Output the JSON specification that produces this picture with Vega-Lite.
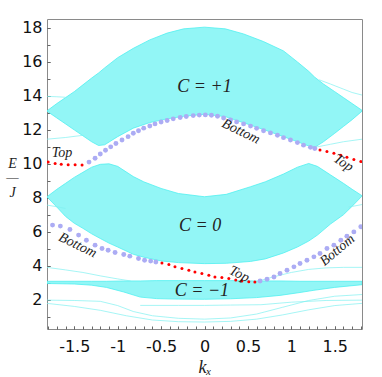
{
  "$schema": "https://vega.github.io/schema/vega-lite/v6.json",
  "width": 315,
  "height": 310,
  "autosize": {"type": "none"},
  "padding": {"left": 47, "top": 19, "right": 20, "bottom": 48},
  "background": "white",
  "config": {"view": {"stroke": "#8a8a8a", "strokeWidth": 1}, "axis": {"labelOverlap": false}},
  "resolve": {"axis": {"x": "independent", "y": "independent"}},
  "datasets": {
    "bands": [
      {"band": "U", "k": -1.8138, "lo": 13.1, "hi": 13.12},
      {"band": "U", "k": -1.7, "lo": 12.7, "hi": 13.55},
      {"band": "U", "k": -1.6, "lo": 12.35, "hi": 13.9},
      {"band": "U", "k": -1.5, "lo": 12.0, "hi": 14.25},
      {"band": "U", "k": -1.4, "lo": 11.65, "hi": 14.65},
      {"band": "U", "k": -1.3, "lo": 11.3, "hi": 15.05},
      {"band": "U", "k": -1.22, "lo": 11.08, "hi": 15.35},
      {"band": "U", "k": -1.15, "lo": 11.12, "hi": 15.65},
      {"band": "U", "k": -1.0, "lo": 11.6, "hi": 16.25},
      {"band": "U", "k": -0.82, "lo": 12.1, "hi": 16.8},
      {"band": "U", "k": -0.63, "lo": 12.43, "hi": 17.3},
      {"band": "U", "k": -0.43, "lo": 12.65, "hi": 17.7},
      {"band": "U", "k": -0.24, "lo": 12.8, "hi": 17.95},
      {"band": "U", "k": 0.0, "lo": 12.92, "hi": 18.05},
      {"band": "U", "k": 0.24, "lo": 12.78, "hi": 17.95},
      {"band": "U", "k": 0.45, "lo": 12.42, "hi": 17.65},
      {"band": "U", "k": 0.68, "lo": 12.02, "hi": 17.2},
      {"band": "U", "k": 0.91, "lo": 11.6, "hi": 16.65},
      {"band": "U", "k": 1.07, "lo": 11.3, "hi": 16.0},
      {"band": "U", "k": 1.2, "lo": 11.05, "hi": 15.45},
      {"band": "U", "k": 1.27, "lo": 10.97, "hi": 15.1},
      {"band": "U", "k": 1.37, "lo": 11.3, "hi": 14.7},
      {"band": "U", "k": 1.5, "lo": 11.8, "hi": 14.25},
      {"band": "U", "k": 1.6, "lo": 12.2, "hi": 13.9},
      {"band": "U", "k": 1.7, "lo": 12.6, "hi": 13.55},
      {"band": "U", "k": 1.8138, "lo": 13.1, "hi": 13.15},
      {"band": "M", "k": -1.8138, "lo": 8.05, "hi": 8.06},
      {"band": "M", "k": -1.7, "lo": 7.45, "hi": 8.5},
      {"band": "M", "k": -1.6, "lo": 6.9, "hi": 8.85},
      {"band": "M", "k": -1.5, "lo": 6.5, "hi": 9.2},
      {"band": "M", "k": -1.4, "lo": 6.2, "hi": 9.5},
      {"band": "M", "k": -1.3, "lo": 5.88, "hi": 9.8},
      {"band": "M", "k": -1.2, "lo": 5.6, "hi": 9.97},
      {"band": "M", "k": -1.1, "lo": 5.33, "hi": 10.0},
      {"band": "M", "k": -1.0, "lo": 5.1, "hi": 9.85},
      {"band": "M", "k": -0.82, "lo": 4.67, "hi": 9.25},
      {"band": "M", "k": -0.7, "lo": 4.5, "hi": 8.94},
      {"band": "M", "k": -0.5, "lo": 4.28, "hi": 8.55},
      {"band": "M", "k": -0.3, "lo": 4.18, "hi": 8.25},
      {"band": "M", "k": 0.0, "lo": 4.12, "hi": 8.06},
      {"band": "M", "k": 0.25, "lo": 4.14, "hi": 8.2},
      {"band": "M", "k": 0.53, "lo": 4.25, "hi": 8.65},
      {"band": "M", "k": 0.7, "lo": 4.4, "hi": 8.94},
      {"band": "M", "k": 0.91, "lo": 4.75, "hi": 9.4},
      {"band": "M", "k": 1.07, "lo": 5.1, "hi": 9.8},
      {"band": "M", "k": 1.2, "lo": 5.45, "hi": 10.02},
      {"band": "M", "k": 1.3, "lo": 5.8, "hi": 9.85},
      {"band": "M", "k": 1.45, "lo": 6.45, "hi": 9.35},
      {"band": "M", "k": 1.6, "lo": 7.0, "hi": 8.85},
      {"band": "M", "k": 1.7, "lo": 7.5, "hi": 8.5},
      {"band": "M", "k": 1.8138, "lo": 8.1, "hi": 8.12},
      {"band": "L", "k": -1.8138, "lo": 2.95, "hi": 3.08},
      {"band": "L", "k": -1.5, "lo": 2.92, "hi": 3.08},
      {"band": "L", "k": -1.3, "lo": 2.85, "hi": 3.08},
      {"band": "L", "k": -1.13, "lo": 2.72, "hi": 3.08},
      {"band": "L", "k": -0.93, "lo": 2.45, "hi": 3.1},
      {"band": "L", "k": -0.74, "lo": 2.15, "hi": 3.1},
      {"band": "L", "k": -0.55, "lo": 2.06, "hi": 3.12},
      {"band": "L", "k": -0.3, "lo": 2.03, "hi": 3.12},
      {"band": "L", "k": 0.0, "lo": 2.02, "hi": 3.12},
      {"band": "L", "k": 0.3, "lo": 2.05, "hi": 3.12},
      {"band": "L", "k": 0.6, "lo": 2.12, "hi": 3.1},
      {"band": "L", "k": 0.87, "lo": 2.25, "hi": 3.1},
      {"band": "L", "k": 1.1, "lo": 2.42, "hi": 3.08},
      {"band": "L", "k": 1.26, "lo": 2.55, "hi": 3.08},
      {"band": "L", "k": 1.5, "lo": 2.72, "hi": 3.08},
      {"band": "L", "k": 1.8138, "lo": 2.88, "hi": 3.08}
    ],
    "lines": [
      {"id": "t1", "k": -1.8138, "E": 13.97}, {"id": "t1", "k": -1.7, "E": 13.95}, {"id": "t1", "k": -1.6, "E": 13.92},
      {"id": "t2", "k": 1.32, "E": 14.95}, {"id": "t2", "k": 1.45, "E": 14.7}, {"id": "t2", "k": 1.6, "E": 14.4}, {"id": "t2", "k": 1.7, "E": 14.2}, {"id": "t2", "k": 1.8138, "E": 14.05},
      {"id": "t3", "k": -1.8138, "E": 11.45}, {"id": "t3", "k": -1.6, "E": 11.55}, {"id": "t3", "k": -1.4, "E": 11.68},
      {"id": "t4", "k": 1.27, "E": 10.97}, {"id": "t4", "k": 1.45, "E": 11.15}, {"id": "t4", "k": 1.6, "E": 11.3}, {"id": "t4", "k": 1.8138, "E": 11.45},
      {"id": "t5", "k": -1.8138, "E": 7.57}, {"id": "t5", "k": -1.7, "E": 7.47}, {"id": "t5", "k": -1.6, "E": 7.37},
      {"id": "t6", "k": 1.66, "E": 7.45}, {"id": "t6", "k": 1.8138, "E": 7.6},
      {"id": "t7", "k": -1.8138, "E": 3.9}, {"id": "t7", "k": -1.6, "E": 3.75}, {"id": "t7", "k": -1.4, "E": 3.6}, {"id": "t7", "k": -1.2, "E": 3.4}, {"id": "t7", "k": -1.0, "E": 3.22}, {"id": "t7", "k": -0.85, "E": 3.1},
      {"id": "t8", "k": 0.62, "E": 3.1}, {"id": "t8", "k": 0.8, "E": 3.35}, {"id": "t8", "k": 1.0, "E": 3.6}, {"id": "t8", "k": 1.2, "E": 3.78}, {"id": "t8", "k": 1.4, "E": 3.87}, {"id": "t8", "k": 1.6, "E": 3.9}, {"id": "t8", "k": 1.8138, "E": 3.9},
      {"id": "t9", "k": -1.8138, "E": 1.97}, {"id": "t9", "k": -1.5, "E": 1.95}, {"id": "t9", "k": -1.2, "E": 1.9}, {"id": "t9", "k": -1.0, "E": 1.65}, {"id": "t9", "k": -0.82, "E": 1.3}, {"id": "t9", "k": -0.6, "E": 1.05}, {"id": "t9", "k": -0.3, "E": 0.9}, {"id": "t9", "k": 0.0, "E": 0.85}, {"id": "t9", "k": 0.3, "E": 0.92}, {"id": "t9", "k": 0.6, "E": 1.15}, {"id": "t9", "k": 0.9, "E": 1.55}, {"id": "t9", "k": 1.2, "E": 1.95}, {"id": "t9", "k": 1.5, "E": 2.2}, {"id": "t9", "k": 1.8138, "E": 2.3},
      {"id": "t10", "k": -1.8138, "E": 1.78}, {"id": "t10", "k": -1.5, "E": 1.6}, {"id": "t10", "k": -1.2, "E": 1.37}, {"id": "t10", "k": -0.9, "E": 1.05}, {"id": "t10", "k": -0.6, "E": 0.8}, {"id": "t10", "k": -0.3, "E": 0.7}, {"id": "t10", "k": 0.0, "E": 0.68}, {"id": "t10", "k": 0.3, "E": 0.72}, {"id": "t10", "k": 0.6, "E": 0.85}, {"id": "t10", "k": 0.9, "E": 1.1}, {"id": "t10", "k": 1.2, "E": 1.4}, {"id": "t10", "k": 1.5, "E": 1.65}, {"id": "t10", "k": 1.8138, "E": 1.78},
      {"id": "t11", "k": -0.74, "E": 1.66}, {"id": "t11", "k": -0.3, "E": 1.66}, {"id": "t11", "k": 0.0, "E": 1.66}, {"id": "t11", "k": 0.3, "E": 1.68}, {"id": "t11", "k": 0.65, "E": 1.7}, {"id": "t11", "k": 1.0, "E": 1.85}, {"id": "t11", "k": 1.4, "E": 1.95}, {"id": "t11", "k": 1.8138, "E": 1.97}
    ],
    "red": [
      {"k": -1.8, "E": 10.1}, {"k": -1.72, "E": 10.02}, {"k": -1.65, "E": 9.98}, {"k": -1.57, "E": 9.95}, {"k": -1.49, "E": 9.94}, {"k": -1.41, "E": 9.93},
      {"k": 1.33, "E": 10.81}, {"k": 1.41, "E": 10.72}, {"k": 1.49, "E": 10.62}, {"k": 1.57, "E": 10.5}, {"k": 1.64, "E": 10.38}, {"k": 1.72, "E": 10.25}, {"k": 1.8, "E": 10.13},
      {"k": -0.49, "E": 4.16}, {"k": -0.41, "E": 4.07}, {"k": -0.34, "E": 3.93}, {"k": -0.26, "E": 3.83}, {"k": -0.18, "E": 3.73}, {"k": -0.11, "E": 3.63}, {"k": -0.03, "E": 3.54}, {"k": 0.05, "E": 3.44}, {"k": 0.12, "E": 3.34}, {"k": 0.2, "E": 3.3}, {"k": 0.28, "E": 3.24}, {"k": 0.36, "E": 3.16}, {"k": 0.43, "E": 3.1}, {"k": 0.51, "E": 3.06}, {"k": 0.58, "E": 3.04}
    ],
    "lav": [
      {"k": -1.33, "E": 10.1}, {"k": -1.26, "E": 10.33}, {"k": -1.2, "E": 10.58}, {"k": -1.14, "E": 10.8}, {"k": -1.08, "E": 11.0}, {"k": -1.02, "E": 11.2}, {"k": -0.95, "E": 11.4}, {"k": -0.88, "E": 11.6}, {"k": -0.82, "E": 11.8}, {"k": -0.76, "E": 11.95}, {"k": -0.7, "E": 12.1}, {"k": -0.63, "E": 12.23}, {"k": -0.57, "E": 12.35}, {"k": -0.5, "E": 12.46}, {"k": -0.43, "E": 12.55}, {"k": -0.36, "E": 12.65}, {"k": -0.28, "E": 12.73}, {"k": -0.21, "E": 12.79}, {"k": -0.13, "E": 12.84}, {"k": -0.06, "E": 12.87}, {"k": 0.01, "E": 12.88}, {"k": 0.08, "E": 12.86}, {"k": 0.15, "E": 12.8}, {"k": 0.22, "E": 12.7}, {"k": 0.3, "E": 12.59}, {"k": 0.37, "E": 12.47}, {"k": 0.45, "E": 12.35}, {"k": 0.53, "E": 12.22}, {"k": 0.6, "E": 12.09}, {"k": 0.68, "E": 11.95}, {"k": 0.76, "E": 11.82}, {"k": 0.84, "E": 11.68}, {"k": 0.91, "E": 11.54}, {"k": 0.99, "E": 11.4}, {"k": 1.07, "E": 11.25}, {"k": 1.14, "E": 11.1}, {"k": 1.22, "E": 10.97}, {"k": 1.27, "E": 10.9},
      {"k": -1.84, "E": 6.39}, {"k": -1.75, "E": 6.39}, {"k": -1.66, "E": 6.33}, {"k": -1.55, "E": 6.13}, {"k": -1.45, "E": 5.8}, {"k": -1.36, "E": 5.5}, {"k": -1.26, "E": 5.21}, {"k": -1.18, "E": 5.01}, {"k": -1.11, "E": 4.91}, {"k": -1.03, "E": 4.78}, {"k": -0.93, "E": 4.66}, {"k": -0.86, "E": 4.56}, {"k": -0.76, "E": 4.42}, {"k": -0.69, "E": 4.32}, {"k": -0.62, "E": 4.27}, {"k": -0.56, "E": 4.22},
      {"k": 0.64, "E": 3.1}, {"k": 0.72, "E": 3.2}, {"k": 0.8, "E": 3.33}, {"k": 0.87, "E": 3.54}, {"k": 0.95, "E": 3.73}, {"k": 1.03, "E": 3.93}, {"k": 1.1, "E": 4.13}, {"k": 1.18, "E": 4.32}, {"k": 1.26, "E": 4.52}, {"k": 1.33, "E": 4.72}, {"k": 1.41, "E": 5.01}, {"k": 1.49, "E": 5.21}, {"k": 1.57, "E": 5.5}, {"k": 1.64, "E": 5.74}, {"k": 1.72, "E": 5.99}, {"k": 1.8, "E": 6.29}
    ],
    "notes": [
      {"id": "c1", "text": "C = +1", "k": 0.0, "E": 14.55},
      {"id": "c0", "text": "C = 0", "k": -0.05, "E": 6.32},
      {"id": "cm", "text": "C = −1", "k": -0.03, "E": 2.51},
      {"id": "topA", "text": "Top", "k": -1.64, "E": 10.62},
      {"id": "botA", "text": "Bottom", "k": 0.42, "E": 11.9},
      {"id": "topB", "text": "Top", "k": 1.6, "E": 10.05},
      {"id": "botB", "text": "Bottom", "k": -1.46, "E": 5.2},
      {"id": "topC", "text": "Top", "k": 0.4, "E": 3.5},
      {"id": "botC", "text": "Bottom", "k": 1.53, "E": 4.91}
    ]
  },
  "layer": [
    {
      "data": {"name": "bands"},
      "mark": {"type": "area", "fill": "#92f6f6", "stroke": "#50f0f0", "strokeWidth": 0.8, "clip": true},
      "encoding": {
        "x": {
          "field": "k", "type": "quantitative",
          "scale": {"domain": [-1.8138, 1.8138], "nice": false, "zero": false},
          "axis": {
            "orient": "bottom",
            "title": "kₓ", "titleFont": "Liberation Serif", "titleFontStyle": "italic", "titleFontWeight": "normal", "titleFontSize": 18, "titleColor": "#222", "titlePadding": 4,
            "values": [-1.5, -1, -0.5, 0, 0.5, 1, 1.5],
            "format": "~g",
            "labelExpr": "replace(datum.label, '−', '-')",
            "labelFont": "DejaVu Sans", "labelFontSize": 16, "labelColor": "#111", "labelPadding": 12,
            "labelFlush": false, "labelOverlap": false,
            "tickSize": -3, "tickColor": "#666", "grid": false, "domain": false
          }
        },
        "y": {
          "field": "hi", "type": "quantitative",
          "scale": {"domain": [0.27, 18.53], "nice": false, "zero": false},
          "axis": {
            "orient": "left",
            "title": ["E", "—", "J"], "titleFont": "Liberation Serif", "titleFontStyle": "italic", "titleFontWeight": "normal", "titleFontSize": 14, "titleColor": "#222",
            "titleAngle": 0, "titleAlign": "center", "titleBaseline": "middle", "titleLineHeight": 14.5, "titleX": -35, "titleY": 144,
            "values": [2, 4, 6, 8, 10, 12, 14, 16, 18],
            "labelFont": "DejaVu Sans", "labelFontSize": 16, "labelColor": "#111", "labelPadding": 8,
            "labelOverlap": false, "labelFlush": false,
            "tickSize": -3, "tickColor": "#666", "grid": false, "domain": false
          }
        },
        "y2": {"field": "lo"},
        "detail": {"field": "band"}
      }
    },
    {
      "data": {"name": "lines"},
      "mark": {"type": "line", "stroke": "#7ff0f0", "strokeWidth": 0.7, "clip": true},
      "encoding": {
        "x": {"field": "k", "type": "quantitative",
          "axis": {"orient": "bottom", "title": null, "labels": false, "domain": false, "grid": false, "tickSize": -3, "tickColor": "#666",
            "values": [-1.8, -1.7, -1.6, -1.5, -1.4, -1.3, -1.2, -1.1, -1.0, -0.9, -0.8, -0.7, -0.6, -0.5, -0.4, -0.3, -0.2, -0.1, 0, 0.1, 0.2, 0.3, 0.4, 0.5, 0.6, 0.7, 0.8, 0.9, 1.0, 1.1, 1.2, 1.3, 1.4, 1.5, 1.6, 1.7, 1.8]}},
        "y": {"field": "E", "type": "quantitative",
          "axis": {"orient": "left", "title": null, "labels": false, "domain": false, "grid": false, "tickSize": -3, "tickColor": "#666",
            "values": [1, 2, 3, 4, 5, 6, 7, 8, 9, 10, 11, 12, 13, 14, 15, 16, 17, 18]}},
        "detail": {"field": "id"}
      }
    },
    {
      "data": {"name": "lav"},
      "mark": {"type": "point", "filled": true, "fill": "#acacf4", "size": 24, "opacity": 1, "clip": true},
      "encoding": {
        "x": {"field": "k", "type": "quantitative", "axis": null},
        "y": {"field": "E", "type": "quantitative", "axis": null}
      }
    },
    {
      "data": {"name": "red"},
      "mark": {"type": "point", "filled": true, "fill": "#ff0000", "size": 9, "opacity": 1, "clip": true},
      "encoding": {
        "x": {"field": "k", "type": "quantitative", "axis": null},
        "y": {"field": "E", "type": "quantitative", "axis": null}
      }
    },
    {
      "data": {"name": "notes"},
      "transform": [{"filter": "datum.id == 'c1' || datum.id == 'c0' || datum.id == 'cm'"}],
      "mark": {"type": "text", "font": "Liberation Serif", "fontStyle": "italic", "fontSize": 18, "fill": "#222", "align": "center", "baseline": "middle"},
      "encoding": {"x": {"field": "k", "type": "quantitative", "axis": null}, "y": {"field": "E", "type": "quantitative", "axis": null}, "text": {"field": "text"}}
    },
    {
      "data": {"name": "notes"},
      "transform": [{"filter": "datum.id == 'topA'"}],
      "mark": {"type": "text", "font": "Liberation Serif", "fontStyle": "italic", "fontSize": 14, "fill": "#222", "align": "center", "baseline": "middle"},
      "encoding": {"x": {"field": "k", "type": "quantitative", "axis": null}, "y": {"field": "E", "type": "quantitative", "axis": null}, "text": {"field": "text"}}
    },
    {
      "data": {"name": "notes"},
      "transform": [{"filter": "datum.id == 'botA' || datum.id == 'botB' || datum.id == 'topC'"}],
      "mark": {"type": "text", "font": "Liberation Serif", "fontStyle": "italic", "fontSize": 14, "fill": "#222", "align": "center", "baseline": "middle", "angle": 26},
      "encoding": {"x": {"field": "k", "type": "quantitative", "axis": null}, "y": {"field": "E", "type": "quantitative", "axis": null}, "text": {"field": "text"}}
    },
    {
      "data": {"name": "notes"},
      "transform": [{"filter": "datum.id == 'topB'"}],
      "mark": {"type": "text", "font": "Liberation Serif", "fontStyle": "italic", "fontSize": 14, "fill": "#222", "align": "center", "baseline": "middle", "angle": 33},
      "encoding": {"x": {"field": "k", "type": "quantitative", "axis": null}, "y": {"field": "E", "type": "quantitative", "axis": null}, "text": {"field": "text"}}
    },
    {
      "data": {"name": "notes"},
      "transform": [{"filter": "datum.id == 'botC'"}],
      "mark": {"type": "text", "font": "Liberation Serif", "fontStyle": "italic", "fontSize": 14, "fill": "#222", "align": "center", "baseline": "middle", "angle": -40},
      "encoding": {"x": {"field": "k", "type": "quantitative", "axis": null}, "y": {"field": "E", "type": "quantitative", "axis": null}, "text": {"field": "text"}}
    }
  ]
}
